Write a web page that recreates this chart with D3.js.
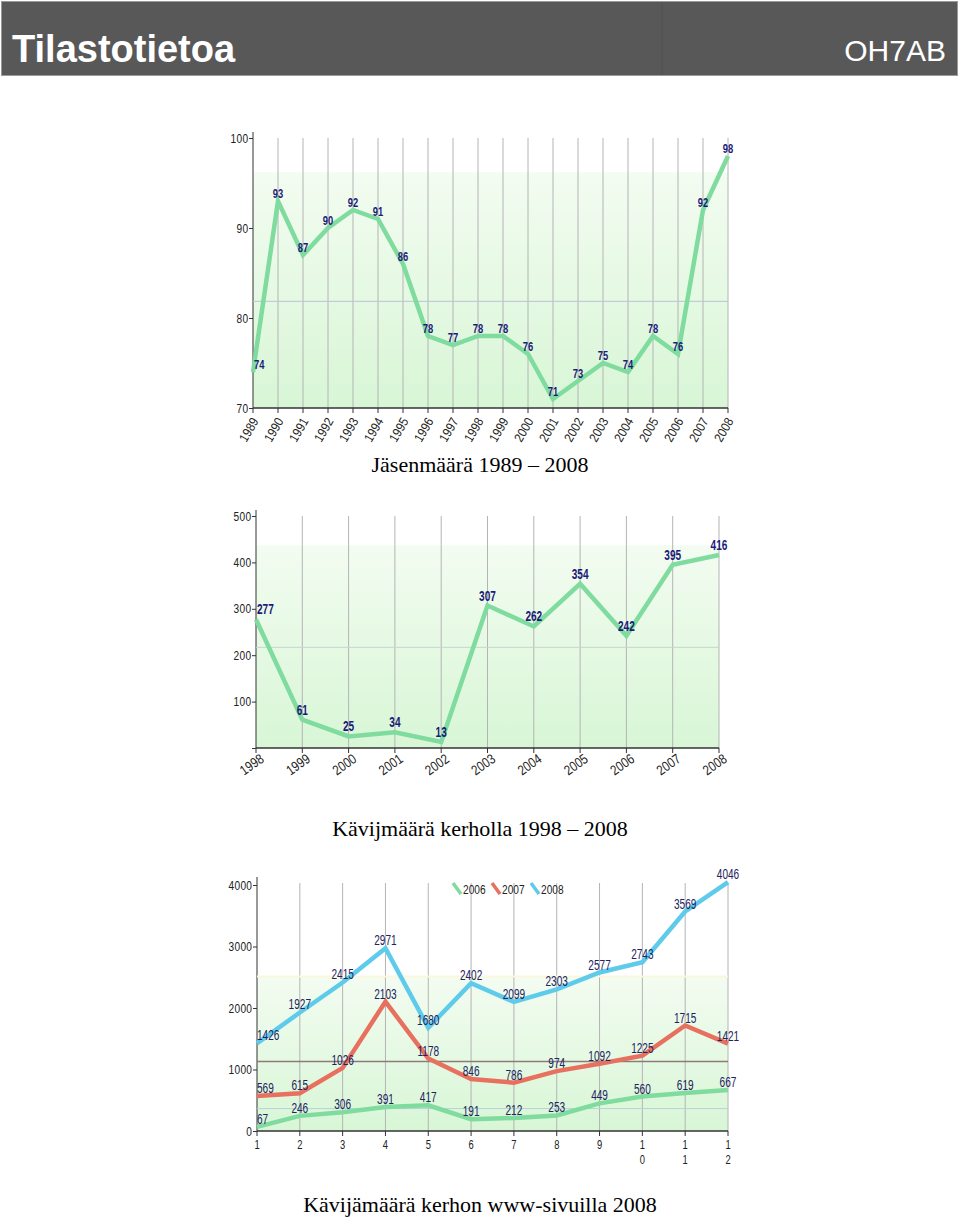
<!DOCTYPE html>
<html><head><meta charset="utf-8">
<script src="https://cdn.jsdelivr.net/npm/d3@7"></script>
<style>
body{margin:0;background:#fff;}
svg{display:block;}
.nar{font-family:"Liberation Sans",Arial,sans-serif;}
</style></head>
<body>
<svg id="c" width="960" height="1220"></svg>
<script>
// ---- DATA ----
const years1 = [1989,1990,1991,1992,1993,1994,1995,1996,1997,1998,1999,2000,2001,2002,2003,2004,2005,2006,2007,2008];
const members = [74,93,87,90,92,91,86,78,77,78,78,76,71,73,75,74,78,76,92,98];
const yTicks1 = [70,80,90,100];

const years2 = [1998,1999,2000,2001,2002,2003,2004,2005,2006,2007,2008];
const visitors = [277,61,25,34,13,307,262,354,242,395,416];
const yTicks2 = [100,200,300,400,500];

const months3 = [1,2,3,4,5,6,7,8,9,10,11,12];
const web2006 = [67,246,306,391,417,191,212,253,449,560,619,667];
const web2007 = [569,615,1026,2103,1178,846,786,974,1092,1225,1715,1421];
const web2008 = [1426,1927,2415,2971,1680,2402,2099,2303,2577,2743,3569,4046];
const seriesNames3 = ["2006","2007","2008"];
const yTicks3 = [0,1000,2000,3000,4000];

const captions = ["Jäsenmäärä 1989 – 2008","Kävijmäärä kerholla 1998 – 2008","Kävijämäärä kerhon www-sivuilla 2008"];

// ---- STYLE ----
const GREEN = "#7fdb9e", RED = "#e8705f", BLUE = "#5fcbeb", NAVY = "#1b1b78";
const svg = d3.select("#c");
const defs = svg.append("defs");
const grad = defs.append("linearGradient").attr("id","band").attr("x1",0).attr("y1",0).attr("x2",0).attr("y2",1);
grad.append("stop").attr("offset","0%").attr("stop-color","#f3fcf1");
grad.append("stop").attr("offset","100%").attr("stop-color","#d8f6d6");

// header
svg.append("rect").attr("x",1.5).attr("y",1.5).attr("width",956).attr("height",74).attr("fill","#585858").attr("stroke","#9a9a9a").attr("stroke-width",1);
svg.append("line").attr("x1",662).attr("x2",662).attr("y1",2).attr("y2",75).attr("stroke","#505050");
svg.append("text").attr("x",12).attr("y",62).attr("fill","#fff").attr("font-family","Liberation Sans, Arial, sans-serif").attr("font-weight","bold").attr("font-size",38).text("Tilastotietoa");
svg.append("text").attr("x",946).attr("y",61).attr("text-anchor","end").attr("fill","#fff").attr("font-family","Liberation Sans, Arial, sans-serif").attr("font-size",30).text("OH7AB");

function avg(a){return d3.mean(a);}

function frame(g, x, y, xs, yTickVals, yTickFmt, bandTop, gridTop){
  const [x0,x1] = x.range(); const [yb] = y.range();
  g.append("rect").attr("x",x0).attr("width",x1-x0).attr("y",y(bandTop)).attr("height",yb-y(bandTop)).attr("fill","url(#band)");
  g.selectAll(".vg").data(xs.slice(1)).join("line").attr("x1",d=>x(d)).attr("x2",d=>x(d))
    .attr("y1",gridTop).attr("y2",yb).attr("stroke","#b4b4b4").attr("stroke-width",1);
  const ya = d3.axisLeft(y).tickValues(yTickVals).tickFormat(yTickFmt).tickSize(4).tickPadding(2);
  const yg = g.append("g").attr("transform",`translate(${x0},0)`).call(ya);
  yg.select(".domain").attr("stroke","#333").attr("d",`M0,${gridTop-6}V${yb}`);
  yg.selectAll("line").attr("stroke","#333");
  yg.selectAll("text").attr("class","nar").attr("font-size",13).attr("fill","#222")
    .attr("transform","scale(0.78,1)").attr("letter-spacing",0.4);
  g.append("line").attr("x1",x0).attr("x2",x1).attr("y1",yb).attr("y2",yb).attr("stroke","#333").attr("stroke-width",1.5);
  g.selectAll(".xt").data(xs).join("line").attr("x1",d=>x(d)).attr("x2",d=>x(d)).attr("y1",yb).attr("y2",yb+5).attr("stroke","#333");
}

function series(g, x, y, xs, vals, color){
  g.append("path").datum(vals).attr("fill","none").attr("stroke",color).attr("stroke-width",4.5)
    .attr("stroke-linejoin","miter").attr("d",d3.line().x((d,i)=>x(xs[i])).y(d=>y(d)));
}

function valueLabels(g, x, y, xs, vals, opt){
  g.append("g").selectAll("text").data(vals).join("text").attr("class","nar")
    .attr("transform",(d,i)=>`translate(${x(xs[i])+(i===0?opt.firstDx:0)},${y(d)-opt.dy}) scale(${opt.sx},1)`)
    .attr("text-anchor",(d,i)=>i===0?"start":"middle")
    .attr("font-size",opt.size).attr("font-weight",opt.weight).attr("fill",opt.color).text(d=>d);
}

// ---- Chart 1 ----
{
  const g = svg.append("g");
  const x = d3.scaleLinear().domain([1989,2008]).range([253,728]);
  const y = d3.scaleLinear().domain([70,100]).range([408,138]);
  frame(g,x,y,years1,yTicks1,d3.format("d"),96.2,138);
  g.append("line").attr("x1",253).attr("x2",728).attr("y1",y(avg(members))).attr("y2",y(avg(members))).attr("stroke","#b9c2d9");
  series(g,x,y,years1,members,GREEN);
  valueLabels(g,x,y,years1,members,{firstDx:1,dy:3,sx:0.78,size:12,weight:"bold",color:NAVY});
  g.selectAll(".xl").data(years1).join("text").attr("class","nar").attr("font-size",13).attr("fill","#222")
    .attr("text-anchor","end").attr("transform",d=>`translate(${x(d)+6},${421}) rotate(-60) scale(0.88,1)`).text(d=>d);
}

// ---- Chart 2 ----
{
  const g = svg.append("g");
  const x = d3.scaleLinear().domain([1998,2008]).range([256,719]);
  const y = d3.scaleLinear().domain([0,500]).range([748,516]);
  frame(g,x,y,years2,[0].concat(yTicks2),d=>d===0?"":d,437,516);
  g.append("line").attr("x1",256).attr("x2",719).attr("y1",y(avg(visitors))).attr("y2",y(avg(visitors))).attr("stroke","#c6d6cf");
  series(g,x,y,years2,visitors,GREEN);
  valueLabels(g,x,y,years2,visitors,{firstDx:1,dy:5,sx:0.72,size:14,weight:"bold",color:NAVY});
  g.selectAll(".xl").data(years2).join("text").attr("class","nar").attr("font-size",14).attr("fill","#222")
    .attr("text-anchor","end").attr("transform",d=>`translate(${x(d)+9},${761}) rotate(-35) scale(0.82,1)`).text(d=>d);
}

// ---- Chart 3 ----
{
  const g = svg.append("g");
  const x = d3.scaleLinear().domain([1,12]).range([257,728]);
  const y = d3.scaleLinear().domain([0,4000]).range([1131,885]);
  frame(g,x,y,months3,yTicks3,d=>String(d),avg(web2008),883);
  g.append("line").attr("x1",257).attr("x2",728).attr("y1",y(avg(web2008))).attr("y2",y(avg(web2008))).attr("stroke","#fbf7dc").attr("stroke-width",2);
  g.append("line").attr("x1",257).attr("x2",728).attr("y1",y(avg(web2007))).attr("y2",y(avg(web2007))).attr("stroke","#8c7b7b").attr("stroke-width",1.5);
  g.append("line").attr("x1",257).attr("x2",728).attr("y1",y(avg(web2006))).attr("y2",y(avg(web2006))).attr("stroke","#b8d2dc");
  const sets = [[web2006,GREEN],[web2007,RED],[web2008,BLUE]];
  sets.forEach(([v,c])=>series(g,x,y,months3,v,c));
  sets.forEach(([v])=>valueLabels(g,x,y,months3,v,{firstDx:0,dy:3,sx:0.72,size:14,weight:"normal",color:"#22225e"}));
  const xl = g.selectAll(".xl").data(months3).join("text").attr("class","nar").attr("font-size",12.5).attr("fill","#222")
    .attr("text-anchor","middle").attr("transform",d=>`translate(${x(d)},0) scale(0.75,1)`);
  xl.each(function(d){
    const t = d3.select(this);
    String(d).split("").forEach((ch,k)=>t.append("tspan").attr("x",0).attr("y",1149+k*15).text(ch));
  });
  const lx = [453,492,531];
  seriesNames3.forEach((n,i)=>{
    g.append("line").attr("x1",lx[i]).attr("y1",883).attr("x2",lx[i]+8).attr("y2",894).attr("stroke",sets[i][1]).attr("stroke-width",3.5);
    g.append("text").attr("class","nar").attr("transform",`translate(${lx[i]+10},894) scale(0.75,1)`).attr("font-size",13.5).attr("fill","#222").text(n);
  });
}

// captions
[472,836,1212].forEach((yy,i)=>{
  svg.append("text").attr("x",480).attr("y",yy).attr("text-anchor","middle")
    .attr("font-family","Liberation Serif, Times New Roman, serif").attr("font-size",22).attr("fill","#000").text(captions[i]);
});
</script>
</body></html>
